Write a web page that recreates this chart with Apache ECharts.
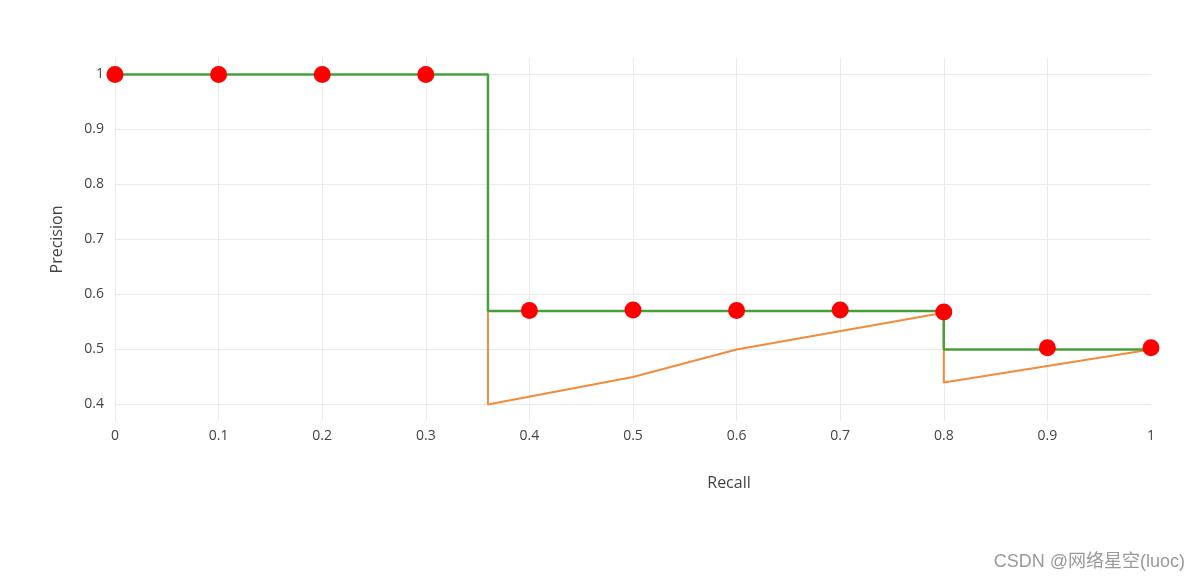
<!DOCTYPE html>
<html><head><meta charset="utf-8">
<script src="https://cdn.jsdelivr.net/npm/echarts@6/dist/echarts.min.js"></script>
<style>html,body{margin:0;padding:0;background:#fff}#c{width:1200px;height:580px}</style>
</head><body><div id="c"></div>
<script>
// Interpolated precision (green step line)
const interpRecall = [0, 0.36, 0.36, 0.8, 0.8, 1.0];
const interpPrecision = [1.0, 1.0, 0.57, 0.57, 0.5, 0.5];
// Raw precision curve (orange)
const rawRecall = [0.36, 0.36, 0.5, 0.6, 0.8, 0.8, 1.0];
const rawPrecision = [0.57, 0.4, 0.45, 0.5, 0.567, 0.44, 0.5];
// Sampled points (red dots)
const pointRecall = [0, 0.1, 0.2, 0.3, 0.4, 0.5, 0.6, 0.7, 0.8, 0.9, 1.0];
const pointPrecision = [1, 1, 1, 1, 0.571, 0.572, 0.571, 0.572, 0.568, 0.503, 0.503];

const zip = (a, b) => a.map((v, i) => [v, b[i]]);
const fontFam = '"Open Sans", "Noto Sans", sans-serif';

const chart = echarts.init(document.getElementById('c'), null, {renderer: 'canvas'});
chart.setOption({
  animation: false,
  backgroundColor: '#fff',
  grid: {left: 115, right: 49, top: 58, bottom: 159, containLabel: false},
  xAxis: {
    type: 'value', min: 0, max: 1.0, interval: 0.1,
    name: 'Recall', nameLocation: 'middle', nameGap: 54,
    nameTextStyle: {fontFamily: fontFam, fontSize: 16, color: '#444', padding: [0, 0, 0, 192]},
    axisLine: {show: false}, axisTick: {show: false},
    axisLabel: {fontFamily: fontFam, fontSize: 14, color: '#444', margin: 8,
      formatter: v => String(Math.round(v * 10) / 10)},
    splitLine: {show: true, showMinLine: true, showMaxLine: false, lineStyle: {color: '#ebebeb', width: 1}}
  },
  yAxis: {
    type: 'value', min: 0.37, max: 1.03, splitNumber: 6, minInterval: 0.1, maxInterval: 0.1,
    name: 'Precision', nameLocation: 'middle', nameGap: 50, nameRotate: 90,
    nameTextStyle: {fontFamily: fontFam, fontSize: 16, color: '#444'},
    axisLine: {show: false}, axisTick: {show: false},
    axisLabel: {fontFamily: fontFam, fontSize: 14, color: '#444', margin: 11, showMinLabel: false, showMaxLabel: false,
      formatter: v => String(Math.round(v * 10) / 10)},
    splitLine: {show: true, showMinLine: false, showMaxLine: false, lineStyle: {color: '#ebebeb', width: 1}}
  },
  series: [
    {type: 'line', data: zip(rawRecall, rawPrecision), showSymbol: false, symbol: 'none',
      lineStyle: {color: '#f28b3c', width: 2}, z: 2},
    {type: 'line', data: zip(interpRecall, interpPrecision), showSymbol: false, symbol: 'none',
      lineStyle: {color: '#45a03c', width: 2.5}, z: 3},
    {type: 'scatter', data: zip(pointRecall, pointPrecision), symbol: 'circle', symbolSize: 17,
      itemStyle: {color: '#ff0000', opacity: 1}, z: 4, clip: false}
  ],
  graphic: [{
    type: 'text', right: 15, bottom: 9,
    style: {text: 'CSDN @网络星空(luoc)', fontSize: 18, fill: '#9a9a9a',
      fontFamily: '"Liberation Sans", "Noto Sans CJK SC", sans-serif'}
  }]
});
</script></body></html>
